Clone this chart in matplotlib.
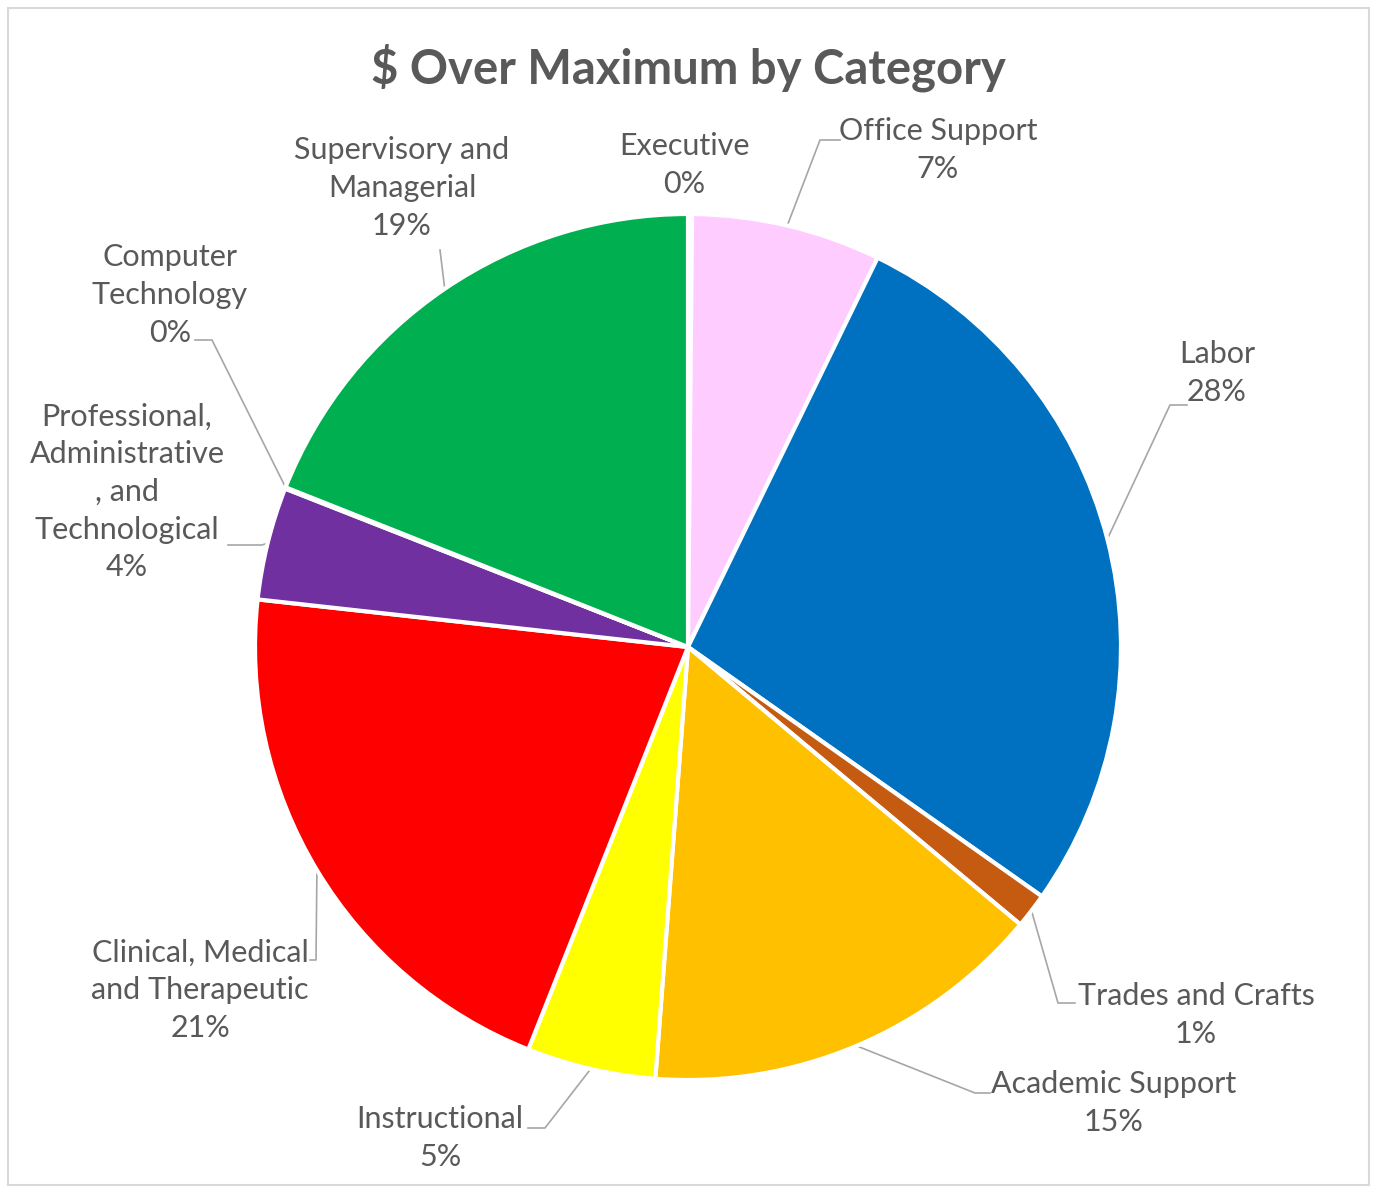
import numpy as np
import matplotlib
matplotlib.use("Agg")
import matplotlib.pyplot as plt
from matplotlib.patches import Rectangle

# ---- data ----
categories = ["Executive", "Office Support", "Labor", "Trades and Crafts",
              "Academic Support", "Instructional",
              "Clinical, Medical and Therapeutic",
              "Professional, Administrative, and Technological",
              "Computer Technology", "Supervisory and Managerial"]
values = [0.15, 7.05, 27.5, 1.3, 15.1, 4.8, 20.7, 4.2, 0.05, 18.95]
label_texts = ["Executive", "Office Support", "Labor", "Trades and Crafts",
               "Academic Support", "Instructional",
               "Clinical, Medical\nand Therapeutic",
               "Professional,\nAdministrative\n, and\nTechnological",
               "Computer\nTechnology", "Supervisory and\nManagerial"]
colors = ["#D9B38C", "#FFCCFF", "#0070C0", "#C55A11", "#FFC000", "#FFFF00",
          "#FF0000", "#7030A0", "#A5A5A5", "#00B050"]

W, H = 1373, 1188
fig = plt.figure(figsize=(W / 100, H / 100), dpi=100)
ax = fig.add_axes([0, 0, 1, 1])
ax.set_xlim(0, W)
ax.set_ylim(0, H)
ax.set_aspect("equal")
ax.axis("off")

FONT = "Lato"
TXT = "#595959"
cx, cy, R = 688, H - 647, 433

wedges, _ = ax.pie(values, colors=colors, startangle=90, counterclock=False,
                   center=(cx, cy), radius=R, frame=True,
                   wedgeprops=dict(edgecolor="white", linewidth=3))
ax.set_xlim(0, W)
ax.set_ylim(0, H)
ax.axis("off")

# border
fig.patches.append(Rectangle((8 / W, 3 / H), (W - 12) / W, (H - 11) / H,
                             transform=fig.transFigure, fill=False,
                             edgecolor="#D9D9D9", linewidth=1.5))

ax.text(cx, H - 68, "$ Over Maximum by Category", ha="center", va="center",
        fontsize=34, fontweight="bold", color=TXT, family=FONT)

total = sum(values)
pcts = [f"{round(v / total * 100):.0f}%" for v in values]

# label centers (pixel coords, y from top) and leader paths (label side points)
label_pos = [(684, 165), (938, 150), (1217, 373), (1196, 1015), (1114, 1103),
             (440, 1138), (200, 990), (127, 492), (170, 295), (402, 188)]
leaders = [None,
           [(840, 140), (820, 140)],
           [(1187, 405), (1170, 405)],
           [(1075, 1003), (1058, 1003)],
           [(990, 1093), (975, 1093)],
           [(528, 1128), (545, 1128)],
           [(310, 960), (316, 960)],
           [(228, 545), (262, 545)],
           [(195, 340), (212, 340)],
           [(440, 250)]]

cum = np.cumsum([0] + values[:-1])
for i, (w, lab) in enumerate(zip(wedges, label_texts)):
    x, y = label_pos[i]
    ax.text(x, H - y, lab + "\n" + pcts[i], ha="center", va="center",
            fontsize=22, color=TXT, family=FONT, linespacing=1.42)
    if leaders[i] is None:
        continue
    frac = (cum[i] + values[i] / 2) / total
    if i == 8:
        frac = (cum[i] + values[i]) / total
    ang = np.deg2rad(90 - frac * 360)
    ex, ey = cx + R * np.cos(ang), cy + R * np.sin(ang)
    pts = [(px, H - py) for px, py in leaders[i]] + [(ex, ey)]
    xs, ys = zip(*pts)
    ax.plot(xs, ys, color="#A6A6A6", linewidth=1.2, zorder=0.5)

fig.savefig("out.png", dpi=100)
